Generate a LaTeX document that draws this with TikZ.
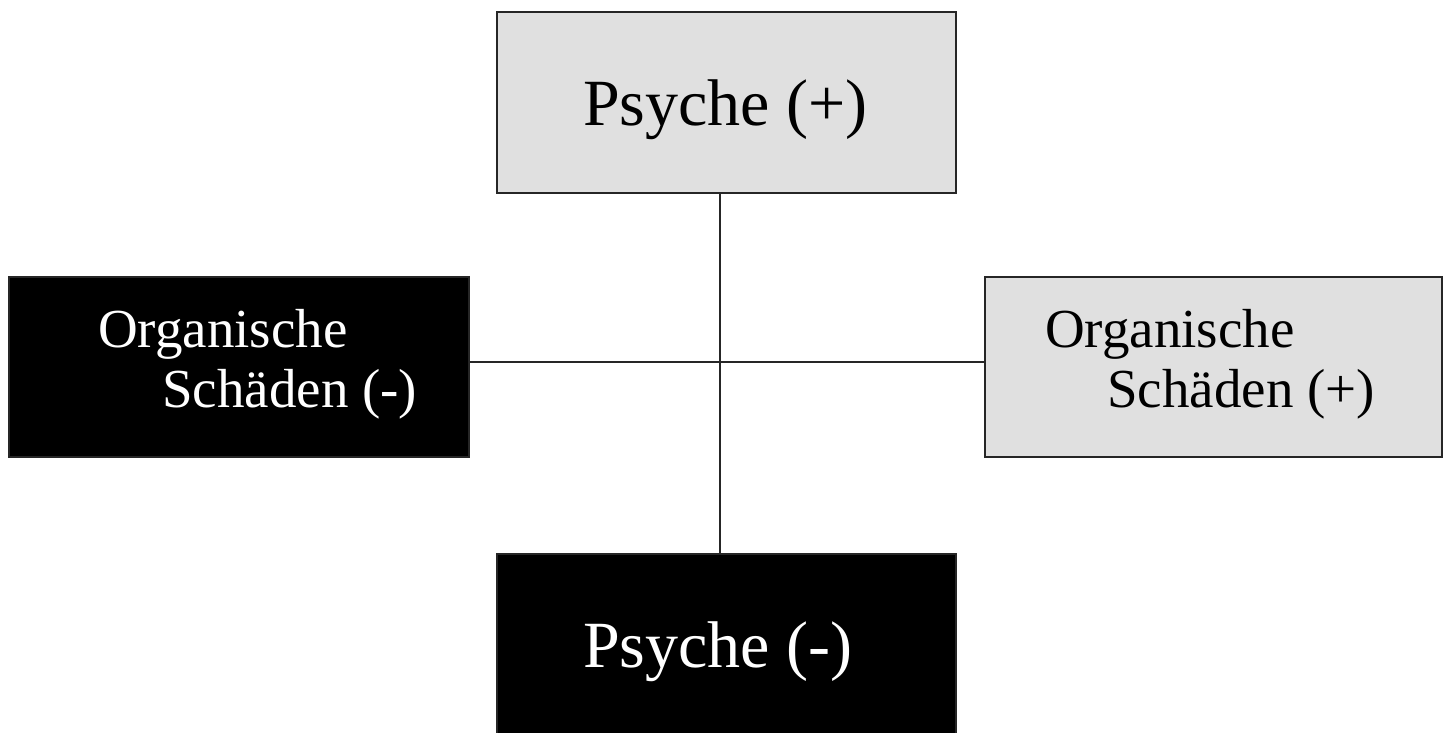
\documentclass[tikz,border=0pt]{standalone}
\usepackage{fontspec}
\setmainfont{Liberation Serif}
\begin{document}
\begin{tikzpicture}[x=1pt,y=-1pt,
  box/.style={draw=black!85,line width=1.4pt,inner sep=0pt,outer sep=0pt,anchor=north west},
  lightbox/.style={box,fill=black!12},
  darkbox/.style={box,fill=black},
  bigtxt/.style={font=\fontsize{66}{72}\selectfont,inner sep=0pt,anchor=base west},
  smalltxt/.style={font=\fontsize{55}{60}\selectfont,inner sep=0pt,anchor=base west},
  link/.style={draw=black!85,line width=1.4pt}]
\useasboundingbox (0,0) rectangle (1448,733);
\fill[white] (0,0) rectangle (1448,733);
% boxes
\node[lightbox,minimum width=459pt,minimum height=181pt] (top) at (497,12) {};
\node[darkbox,minimum width=460pt,minimum height=180pt] (left) at (9,277) {};
\node[lightbox,minimum width=457pt,minimum height=180pt] (right) at (985,277) {};
\node[darkbox,minimum width=459pt,minimum height=185pt] (bottom) at (497,554) {};
% texts
\node[bigtxt] (ttop) at (583,125) {Psyche (+)};
\node[bigtxt,text=white] (tbottom) at (583,667) {Psyche (-)};
\node[smalltxt,text=white] (tl1) at (98,347) {Organische};
\node[smalltxt,text=white] (tl2) at (162,407) {Schäden (-)};
\node[smalltxt] (tr1) at (1045,347) {Organische};
\node[smalltxt] (tr2) at (1107,407) {Schäden (+)};
% connectors
\coordinate (vx) at (720,0);
\coordinate (hy) at (0,362);
\draw[link] (top.south -| vx) -- (bottom.north -| vx);
\draw[link] (left.east |- hy) -- (right.west |- hy);
\end{tikzpicture}
\end{document}
